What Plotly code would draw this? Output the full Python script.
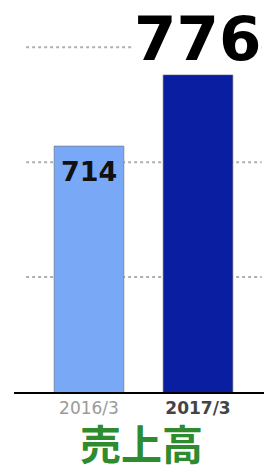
import plotly.graph_objects as go

categories = ["2016/3", "2017/3"]
values = [714, 776]
bar_colors = ["#78A8F6", "#0A1EA2"]
grid_values = [600, 700, 800]
tick_labels = ['<span style="color:#9a9a9a">2016/3</span>',
               '<b><span style="color:#444444">2017/3</span></b>']
title_text = "売上高"

x_pos = list(range(len(categories)))

fig = go.Figure()
fig.add_trace(go.Bar(
    x=x_pos, y=values, width=0.64,
    marker=dict(color=bar_colors, line=dict(color="rgba(110,110,110,0.6)", width=1)),
    hoverinfo="skip",
))

shapes = []
for g in grid_values:
    shapes.append(dict(type="line", xref="paper", yref="y", x0=0.047, x1=0.96, y0=g, y1=g,
                       line=dict(color="#b0b0b0", width=2, dash="dot"), layer="below"))

annotations = [
    dict(x=x_pos[1], y=values[1], xref="x", yref="y", text="<b>%d</b>" % values[1],
         showarrow=False, yanchor="bottom", yshift=0, bgcolor="white", borderpad=0,
         font=dict(family="DejaVu Sans", size=61, color="black")),
    dict(x=x_pos[0], y=values[0], xref="x", yref="y", text="<b>%d</b>" % values[0],
         showarrow=False, yanchor="top", yshift=-9, borderpad=0,
         font=dict(family="DejaVu Sans", size=27, color="#111111")),
    dict(x=0.496, y=-0.139, xref="paper", yref="paper", text="<b>%s</b>" % title_text,
         showarrow=False, yanchor="middle", borderpad=0,
         font=dict(family="Noto Sans CJK JP", size=41, color="#2E8B2E")),
]

fig.update_layout(
    width=264, height=460,
    margin=dict(l=6, r=0, t=22, b=76),
    paper_bgcolor="white", plot_bgcolor="white",
    showlegend=False,
    shapes=shapes,
    annotations=annotations,
    xaxis=dict(range=[-0.688, 1.679], tickvals=x_pos, ticktext=tick_labels,
               showgrid=False, zeroline=False, showline=True, linecolor="black",
               linewidth=2, ticks="", fixedrange=True,
               tickfont=dict(family="DejaVu Sans", size=17)),
    yaxis=dict(range=[500, 815], showgrid=False, zeroline=False, showticklabels=False,
               showline=False, ticks="", fixedrange=True),
)

fig.write_html("out.html")
